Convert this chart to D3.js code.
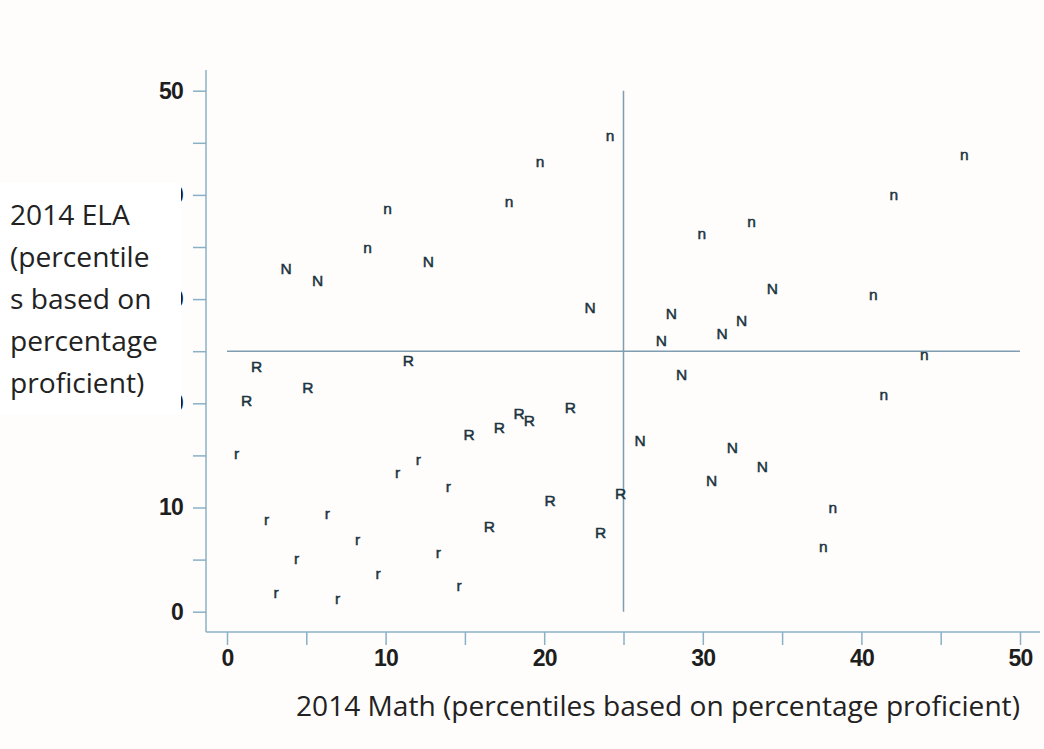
<!DOCTYPE html>
<html>
<head>
<meta charset="utf-8">
<script src="https://cdn.jsdelivr.net/npm/d3@7"></script>
<style>
  html, body { margin: 0; padding: 0; background: #ffffff; }
  svg { display: block; }
</style>
</head>
<body>
<svg id="chart" width="1044" height="749"></svg>
<script>
// ---- data (2014 Math percentile, 2014 ELA percentile) ----
const nX = [24.15, 19.74, 17.78, 29.93, 46.49, 42.04, 33.08, 40.75, 43.97, 41.42, 38.19, 37.6, 10.13, 8.87];
const nY = [45.6, 43.1, 39.25, 36.15, 43.73, 39.9, 37.37, 30.36, 24.57, 20.77, 9.92, 6.18, 38.62, 34.81];

const NX = [3.72, 5.72, 12.69, 22.89, 28.01, 27.38, 31.21, 28.67, 34.38, 32.45, 26.04, 30.56, 31.86, 33.75];
const NY = [32.96, 31.77, 33.66, 29.17, 28.64, 26.07, 26.72, 22.81, 31.04, 27.93, 16.48, 12.57, 15.78, 13.92];

const RX = [1.87, 1.24, 5.09, 11.43, 15.26, 17.17, 18.41, 19.06, 21.65, 20.37, 16.54, 24.82, 23.56];
const RY = [23.51, 20.32, 21.54, 24.09, 17.05, 17.7, 19.04, 18.4, 19.62, 10.72, 8.16, 11.36, 7.62];

const rX = [0.61, 2.5, 6.32, 8.24, 4.39, 3.09, 6.98, 9.52, 10.76, 12.06, 13.95, 13.32, 14.63];
const rY = [15.11, 8.7, 9.35, 6.81, 4.96, 1.77, 1.12, 3.59, 13.28, 14.49, 11.9, 5.6, 2.4];

const xTickValues = [0, 5, 10, 15, 20, 25, 30, 35, 40, 45, 50];
const yTickValues = [0, 5, 10, 15, 20, 25, 30, 35, 40, 45, 50];
const labeledTicks = [0, 10, 20, 30, 40, 50];
const refX = 25, refY = 25;

const yTitleLines = ["2014 ELA", "(percentile", "s based on", "percentage", "proficient)"];
const xTitle = "2014 Math (percentiles based on percentage proficient)";

// ---- layout ----
const svg = d3.select("#chart");
const axisColor = "#88b0c6";
const lineColor = "#7f9db0";
const markColor = "#1b3440";

svg.append("rect").attr("width", 1044).attr("height", 749).attr("fill", "#fffdfc");

const x = d3.scaleLinear().domain([0, 50]).range([227, 1020]);
const y = d3.scaleLinear().domain([0, 50]).range([611.7, 90.7]);

const axisX = 206, axisY = 632;

// axes
const yAxis = d3.axisLeft(y).tickValues(yTickValues).tickSize(13).tickPadding(10)
  .tickFormat(d => labeledTicks.includes(d) ? d : "");
const gy = svg.append("g").attr("transform", `translate(${axisX},0)`).call(yAxis);
gy.select(".domain").remove();
gy.append("line").attr("x1", 0).attr("x2", 0).attr("y1", 70).attr("y2", axisY)
  .attr("stroke", axisColor).attr("stroke-width", 1.5);

const xAxis = d3.axisBottom(x).tickValues(xTickValues).tickSize(13).tickPadding(5)
  .tickFormat(d => labeledTicks.includes(d) ? d : "");
const gx = svg.append("g").attr("transform", `translate(0,${axisY})`).call(xAxis);
gx.select(".domain").remove();
gx.append("line").attr("x1", axisX).attr("x2", 1040).attr("y1", 0).attr("y2", 0)
  .attr("stroke", axisColor).attr("stroke-width", 1.5);

[gx, gy].forEach(g => {
  g.selectAll(".tick line").attr("stroke", axisColor).attr("stroke-width", 1.5);
  g.selectAll(".tick text")
    .attr("fill", "#1e1e1e")
    .attr("font-family", "'Liberation Sans', Arial, sans-serif")
    .attr("font-size", 23)
    .attr("font-weight", "bold")
    .attr("letter-spacing", "-0.8px");
});

// reference lines
svg.append("line")
  .attr("x1", x(0)).attr("x2", x(50)).attr("y1", y(refY)).attr("y2", y(refY))
  .attr("stroke", lineColor).attr("stroke-width", 1.5);
svg.append("line")
  .attr("x1", x(refX)).attr("x2", x(refX)).attr("y1", y(50)).attr("y2", y(0))
  .attr("stroke", lineColor).attr("stroke-width", 1.5);

// marks
function drawLetters(xs, ys, letter, lower) {
  svg.append("g").selectAll("text")
    .data(xs.map((v, i) => [v, ys[i]]))
    .join("text")
    .attr("x", d => x(d[0]))
    .attr("y", d => y(d[1]))
    .attr("dy", lower ? "0.28em" : "0.36em")
    .attr("text-anchor", "middle")
    .attr("fill", markColor)
    .attr("stroke", markColor)
    .attr("stroke-width", 0.5)
    .style("font-family", "'Liberation Sans', Arial, sans-serif")
    .style("font-size", "15.5px")
    .text(letter);
}
drawLetters(nX, nY, "n", true);
drawLetters(NX, NY, "N", false);
drawLetters(RX, RY, "R", false);
drawLetters(rX, rY, "r", true);

// y title box (covers part of the y tick labels as in the original)
svg.append("rect").attr("x", 0).attr("y", 183).attr("width", 181).attr("height", 232).attr("fill", "#ffffff");

const titleFont = "'Open Sans', 'Noto Sans', sans-serif";
function fitText(sel, target) {
  sel.style("font-size", "100px");
  const w = sel.node().getComputedTextLength();
  sel.style("font-size", (100 * target / w) + "px");
}

const yBase = [225, 267, 309, 351, 393];
const ref = svg.append("text").attr("x", -1000).attr("y", -1000)
  .style("font-family", titleFont).text("percentage");
fitText(ref, 148);
const ySize = ref.style("font-size");
ref.remove();

svg.append("g").selectAll("text")
  .data(yTitleLines)
  .join("text")
  .attr("x", 10)
  .attr("y", (d, i) => yBase[i])
  .attr("fill", "#222")
  .style("font-family", titleFont)
  .style("font-size", ySize)
  .text(d => d);

const xt = svg.append("text")
  .attr("x", 296).attr("y", 716)
  .attr("fill", "#222")
  .style("font-family", titleFont)
  .text(xTitle);
fitText(xt, 724);
</script>
</body>
</html>
